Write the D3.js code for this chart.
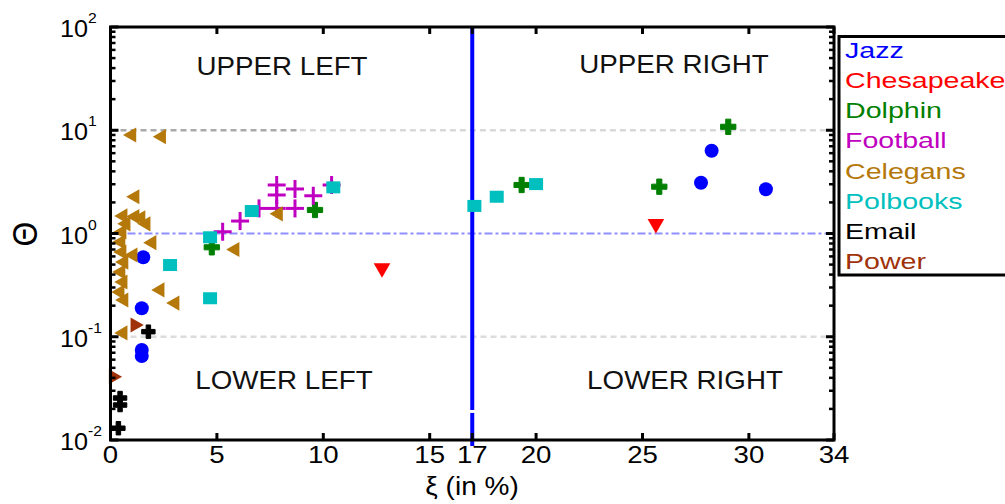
<!DOCTYPE html>
<html><head><meta charset="utf-8">
<script src="https://cdn.jsdelivr.net/npm/d3@7"></script>
<style>
html,body{margin:0;padding:0;background:#fff;}
svg{display:block;font-family:"Liberation Sans",Arial,sans-serif;}
</style></head>
<body>
<svg id="chart" width="1005" height="504"></svg>
<script>
// ---------- data ----------
const seriesNames = ["Jazz","Chesapeake","Dolphin","Football","Celegans","Polbooks","Email","Power"];
const seriesColors = ["#0000ff","#ff0000","#007f00","#c000c0","#b5780a","#00bfbf","#000000","#a0320a"];

const jazzX = [1.54, 1.47, 1.47, 1.47, 28.25, 27.75, 30.8];
const jazzY = [0.589, 0.189, 0.0744, 0.0651, 6.34, 3.10, 2.68];

const chesX = [25.63, 12.76];
const chesY = [1.24, 0.463];

const dolphinX = [29.03, 19.32, 25.79, 9.61, 4.76];
const dolphinY = [10.8, 2.95, 2.84, 1.69, 0.735];

const footballX = [7.81, 7.81, 7.81, 8.67, 8.67, 9.53, 6.98, 6.09, 5.27, 10.39];
const footballY = [2.95, 2.36, 1.75, 2.70, 1.75, 2.32, 1.75, 1.32, 1.04, 2.95];

const celegansX = [1.0, 2.4, 1.15, 0.59, 1.15, 1.43, 0.73, 1.67, 1.95, 0.54, 0.49, 0.54, 0.63, 0.49, 0.59, 0.45, 0.63, 1.06, 2.33, 3.03, 0.59, 7.89, 5.85];
const celegansY = [9.0, 8.66, 2.27, 1.48, 1.46, 1.42, 1.24, 1.24, 0.815, 1.035, 0.827, 0.662, 0.529, 0.424, 0.339, 0.271, 0.227, 0.619, 0.284, 0.212, 0.109, 1.55, 0.70];

const polbooksX = [10.47, 6.64, 4.68, 4.68, 2.80, 17.1, 18.15, 20.0];
const polbooksY = [2.80, 1.65, 0.919, 0.236, 0.495, 1.85, 2.27, 3.01];

const emailX = [1.78, 0.45, 0.45, 0.37];
const emailY = [0.112, 0.0255, 0.0218, 0.0130];

const powerX = [1.15, 0.13];
const powerY = [0.130, 0.041];

const xTicks = [0, 5, 10, 15, 17, 20, 25, 30, 34];
const yDecades = [-2, -1, 0, 1, 2];
const quadrantLabels = ["UPPER LEFT", "UPPER RIGHT", "LOWER LEFT", "LOWER RIGHT"];
const threshold = 17;

// ---------- layout ----------
const svg = d3.select("#chart");
const L = 110.5, R = 834, T = 27, B = 440;
const x = d3.scaleLinear().domain([0, 34]).range([L, R]);
const y = d3.scaleLog().domain([0.01, 100]).range([B, T]);
const SX = 1.13; // horizontal text stretch

function txt(g, px, py, s, size, anchor, color, sx) {
  return g.append("text")
    .attr("transform", `translate(${px},${py}) scale(${sx || SX},1)`)
    .attr("font-size", size)
    .attr("text-anchor", anchor || "start")
    .attr("fill", color || "#000")
    .text(s);
}

// gridlines
const grid = svg.append("g");
grid.append("line").attr("x1", x(0)).attr("x2", x(8.9)).attr("y1", y(10)).attr("y2", y(10))
  .attr("stroke", "#aaaaaa").attr("stroke-width", 2.5).attr("stroke-dasharray", "6,4");
grid.append("line").attr("x1", x(8.9)).attr("x2", x(34)).attr("y1", y(10)).attr("y2", y(10))
  .attr("stroke", "#d8d8d8").attr("stroke-width", 2.5).attr("stroke-dasharray", "6,4");
grid.append("line").attr("x1", x(0)).attr("x2", x(34)).attr("y1", y(0.1)).attr("y2", y(0.1))
  .attr("stroke", "#dcdcdc").attr("stroke-width", 2.5).attr("stroke-dasharray", "6,4");
grid.append("line").attr("x1", x(0)).attr("x2", x(34)).attr("y1", y(1)).attr("y2", y(1))
  .attr("stroke", "#8f8fff").attr("stroke-width", 2).attr("stroke-dasharray", "8,3,3,3");

// vertical threshold line
grid.append("line").attr("x1", x(threshold)).attr("x2", x(threshold)).attr("y1", y(100)).attr("y2", y(0.0195))
  .attr("stroke", "#0000ff").attr("stroke-width", 4);
grid.append("line").attr("x1", x(threshold)).attr("x2", x(threshold)).attr("y1", y(0.0183)).attr("y2", y(0.01) + 6)
  .attr("stroke", "#0000ff").attr("stroke-width", 4);

// quadrant labels
const ql = svg.append("g");
txt(ql, 282, 75, quadrantLabels[0], 25, "middle", "#111", 1.11);
txt(ql, 674, 73, quadrantLabels[1], 25, "middle", "#111", 1.11);
txt(ql, 284, 389, quadrantLabels[2], 25, "middle", "#111", 1.11);
txt(ql, 685, 389, quadrantLabels[3], 25, "middle", "#111", 1.11);

// ---------- markers ----------
const pts = svg.append("g");
function zip(xs, ys) { return xs.map((v, i) => [v, ys[i]]); }

// Jazz circles
pts.selectAll(".jazz").data(zip(jazzX, jazzY)).join("circle")
  .attr("cx", d => x(d[0])).attr("cy", d => y(d[1])).attr("r", 7).attr("fill", seriesColors[0]);
// Chesapeake down triangles
pts.selectAll(".ches").data(zip(chesX, chesY)).join("path")
  .attr("d", d3.symbol(d3.symbolTriangle, 120))
  .attr("transform", d => `translate(${x(d[0])},${y(d[1])}) rotate(180)`).attr("fill", seriesColors[1]);
// Dolphin crosses
pts.selectAll(".dol").data(zip(dolphinX, dolphinY)).join("path")
  .attr("d", d3.symbol(d3.symbolCross, 130))
  .attr("transform", d => `translate(${x(d[0])},${y(d[1])})`).attr("fill", seriesColors[2])
  .attr("stroke", seriesColors[2]).attr("stroke-width", 1).attr("stroke-linejoin", "round");
// Football plus signs
const plus = pts.selectAll(".fb").data(zip(footballX, footballY)).join("g")
  .attr("transform", d => `translate(${x(d[0])},${y(d[1])})`);
plus.append("line").attr("x1", -9).attr("x2", 9).attr("stroke", seriesColors[3]).attr("stroke-width", 3);
plus.append("line").attr("y1", -9).attr("y2", 9).attr("stroke", seriesColors[3]).attr("stroke-width", 3);
// Celegans left triangles
pts.selectAll(".cel").data(zip(celegansX, celegansY)).join("path")
  .attr("d", d3.symbol(d3.symbolTriangle, 100))
  .attr("transform", d => `translate(${x(d[0])},${y(d[1])}) rotate(-90)`).attr("fill", seriesColors[4]);
// Polbooks squares
pts.selectAll(".pol").data(zip(polbooksX, polbooksY)).join("rect")
  .attr("x", d => x(d[0]) - 7).attr("y", d => y(d[1]) - 6).attr("width", 14).attr("height", 12)
  .attr("fill", seriesColors[5]);
// Email crosses
pts.selectAll(".em").data(zip(emailX, emailY)).join("path")
  .attr("d", d3.symbol(d3.symbolCross, 100))
  .attr("transform", d => `translate(${x(d[0])},${y(d[1])})`).attr("fill", seriesColors[6])
  .attr("stroke", seriesColors[6]).attr("stroke-width", 1).attr("stroke-linejoin", "round");
// Power right triangles
pts.selectAll(".pw").data(zip(powerX, powerY)).join("path")
  .attr("d", d3.symbol(d3.symbolTriangle, 100))
  .attr("transform", d => `translate(${x(d[0])},${y(d[1])}) rotate(90)`).attr("fill", seriesColors[7]);

// ---------- frame & ticks ----------
const ax = svg.append("g");
ax.append("rect").attr("x", L).attr("y", T).attr("width", R - L).attr("height", B - T)
  .attr("fill", "none").attr("stroke", "#000").attr("stroke-width", 3);
xTicks.forEach(v => {
  ax.append("line").attr("x1", x(v)).attr("x2", x(v)).attr("y1", B).attr("y2", B - 7).attr("stroke", "#000").attr("stroke-width", 3);
  ax.append("line").attr("x1", x(v)).attr("x2", x(v)).attr("y1", T).attr("y2", T + 7).attr("stroke", "#000").attr("stroke-width", 3);
  txt(ax, x(v), 463, String(v), 24, "middle", "#000", 1.15);
});
const minor = [];
for (let e = -2; e < 2; e++) for (let m = 2; m <= 9; m++) minor.push(m * Math.pow(10, e));
minor.forEach(v => {
  ax.append("line").attr("x1", L).attr("x2", L + 5).attr("y1", y(v)).attr("y2", y(v)).attr("stroke", "#000").attr("stroke-width", 2.5);
  ax.append("line").attr("x1", R).attr("x2", R - 5).attr("y1", y(v)).attr("y2", y(v)).attr("stroke", "#000").attr("stroke-width", 2.5);
});
yDecades.forEach(e => {
  const v = Math.pow(10, e);
  ax.append("line").attr("x1", L).attr("x2", L + 8).attr("y1", y(v)).attr("y2", y(v)).attr("stroke", "#000").attr("stroke-width", 3);
  ax.append("line").attr("x1", R).attr("x2", R - 8).attr("y1", y(v)).attr("y2", y(v)).attr("stroke", "#000").attr("stroke-width", 3);
  txt(ax, 88, y(v) + 10, "10", 24, "end", "#000", 1.05);
  txt(ax, 88, y(v) - 4, e < 0 ? "-" + (-e) : String(e), 15, "start", "#000", 1.05);
});

// axis titles
txt(svg, 472, 495, "\u03BE (in %)", 25, "middle", "#000", 1.12);
svg.append("text").attr("transform", "translate(37,234) rotate(-90) scale(1,1.1)")
  .attr("font-size", 32).attr("text-anchor", "middle").text("\u0398");

// ---------- legend ----------
const lg = svg.append("g");
lg.append("rect").attr("x", 839).attr("y", 36.5).attr("width", 200).attr("height", 238.5)
  .attr("fill", "#fff").attr("stroke", "#000").attr("stroke-width", 3);
seriesNames.forEach((n, i) => {
  txt(lg, 845, 58 + i * 30.15, n, 22, "start", seriesColors[i], 1.3);
});
</script>
</body></html>
